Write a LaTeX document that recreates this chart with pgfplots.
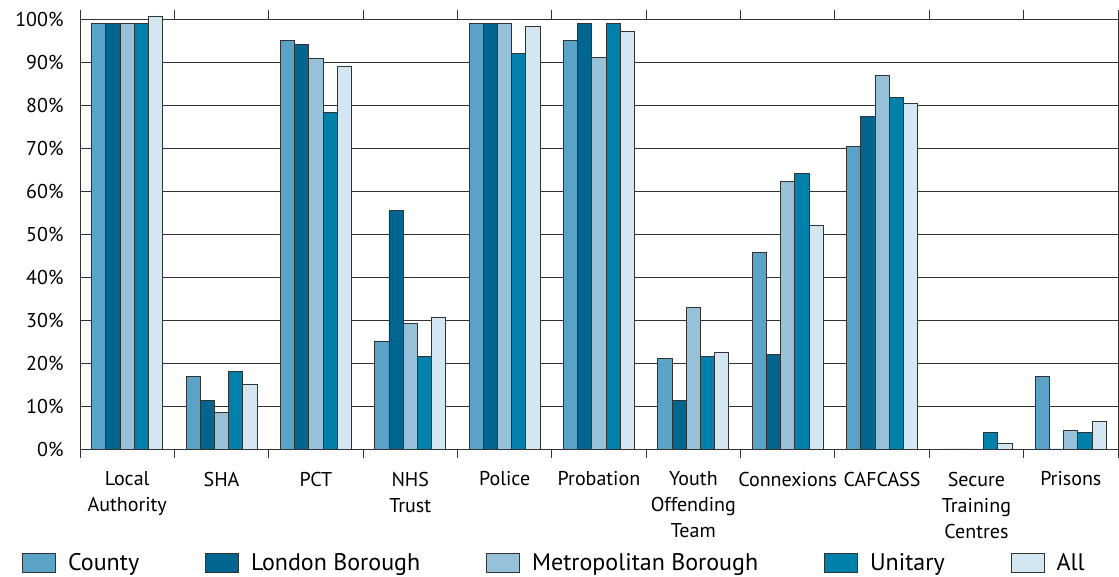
\documentclass[border=0pt]{standalone}
\usepackage{pgfplots}
\usepackage{pgfplotstable}
\pgfplotsset{compat=1.18}
\usepackage{fontspec}
\setmainfont{PT Sans}

\definecolor{county}{HTML}{5BA3C6}
\definecolor{london}{HTML}{00668F}
\definecolor{metro}{HTML}{97C0D9}
\definecolor{unitary}{HTML}{0081AB}
\definecolor{allc}{HTML}{D4E6F1}
\definecolor{edge}{HTML}{333333}

% share of organisations, by council type
\pgfplotstableread{
x  County London Metro Unitary All
0  99    99    99    99    100.7
1  16.9  11.3  8.4   18.1  14.9
2  94.9  94.1  90.9  78.3  88.9
3  25.0  55.4  29.1  21.5  30.5
4  99    99    99    92.0  98.2
5  94.9  99    91.0  99    97.0
6  21.1  11.3  33.0  21.5  22.4
7  45.7  21.9  62.2  64.0  51.9
8  70.3  77.4  86.8  81.8  80.3
9  0     0     0     3.8   1.3
10 16.9  0     4.2   3.8   6.3
}\shares

\begin{document}
\begin{tikzpicture}
  \begin{axis}[
    scale only axis,
    width=1038pt, height=430pt,
    ybar=0pt, bar width=14.2pt,
    xmin=-0.5, xmax=10.5,
    ymin=0, ymax=100,
    clip=false,
    axis line style={edge, line width=0.9pt},
    ymajorgrids, grid style={edge, line width=0.9pt},
    ytick={0,10,...,100},
    yticklabel={\pgfmathprintnumber{\tick}\%},
    /pgf/number format/assume math mode=true,
    major y tick style={draw=none},
    yticklabel style={font=\fontsize{20}{24}\selectfont, xshift=-13pt},
    xtick={0,...,10},
    major x tick style={draw=none},
    minor xtick={-0.5,0.5,...,10.5},
    minor tick length=9pt,
    minor x tick style={edge, line width=0.9pt},
    xticklabels={{Local\\Authority},SHA,PCT,{NHS\\Trust},Police,Probation,
      {Youth\\Offending\\Team},Connexions,CAFCASS,{Secure\\Training\\Centres},Prisons},
    xticklabel style={font=\fontsize{20}{26}\selectfont, align=center, anchor=north, yshift=-15pt},
    legend columns=5,
    legend style={draw=none, font=\fontsize{24}{28}\selectfont,
      at={(axis description cs:-0.0559,-0.265)}, anchor=west,
      inner sep=0pt,
      /tikz/every odd column/.append style={column sep=10pt},
      /tikz/every even column/.append style={column sep=64pt}},
    legend image code/.code={\draw[#1, bar shift=0pt] (0pt,-9.5pt) rectangle (33pt,9.5pt);},
    every axis plot/.append style={draw=edge, line width=0.9pt},
  ]
    \addplot[fill=county]  table[x=x, y=County]  {\shares};
    \addplot[fill=london]  table[x=x, y=London]  {\shares};
    \addplot[fill=metro]   table[x=x, y=Metro]   {\shares};
    \addplot[fill=unitary] table[x=x, y=Unitary] {\shares};
    \addplot[fill=allc]    table[x=x, y=All]     {\shares};
    \legend{County, London Borough, Metropolitan Borough, Unitary, All}
  \end{axis}
  \pgfresetboundingbox
  \path (-80pt,-128pt) rectangle (1039pt,449pt);
\end{tikzpicture}
\end{document}
